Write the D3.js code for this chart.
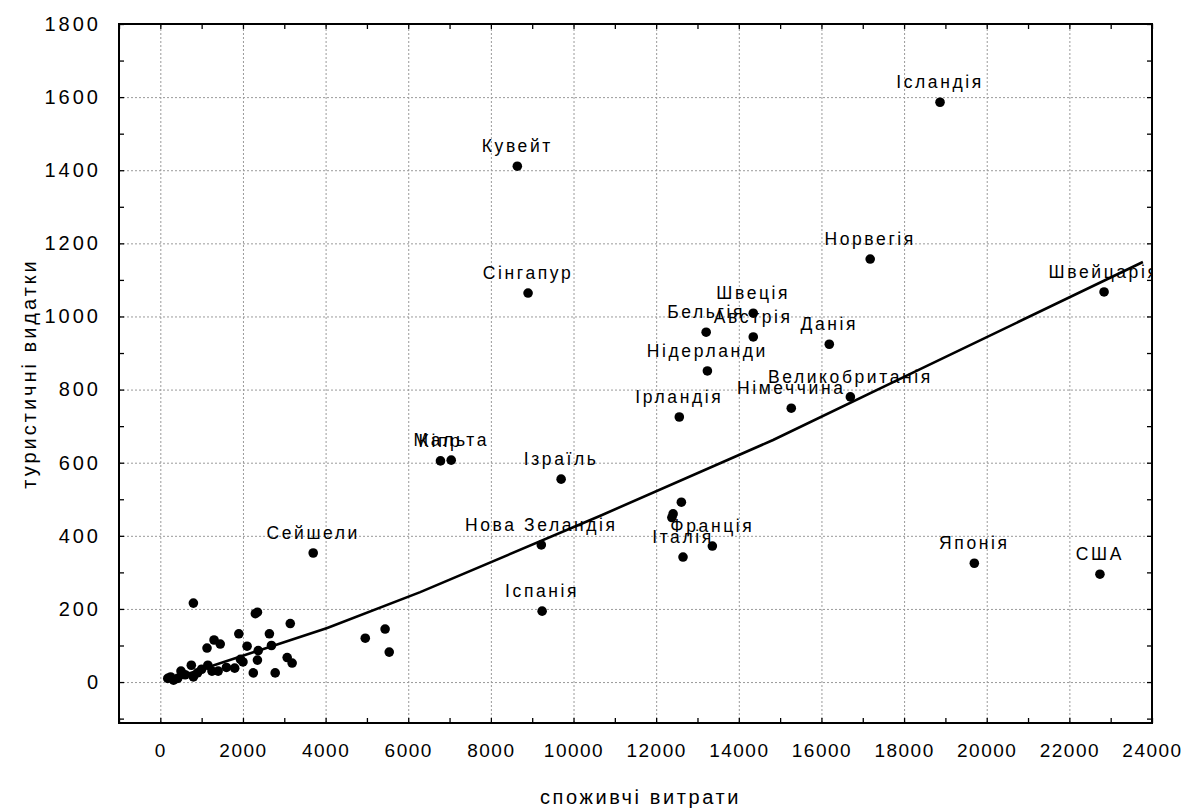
<!DOCTYPE html>
<html>
<head>
<meta charset="utf-8">
<script src="https://cdn.jsdelivr.net/npm/d3@7"></script>
<style>
  body { margin: 0; background: #fff; }
  svg { display: block; font-family: "Liberation Sans", Arial, sans-serif; }
</style>
</head>
<body>
<script>
window.document.addEventListener('DOMContentLoaded', init, false);

// labelled countries
var countries = ['Ісландія', 'Кувейт', 'Норвегія', 'Сінгапур', 'Швейцарія', 'Швеція', 'Австрія',
                 'Бельгія', 'Данія', 'Нідерланди', 'Ірландія', 'Німеччина', 'Великобританія',
                 'Кіпр', 'Мальта', 'Ізраїль', 'Нова Зеландія', 'Франція', 'Італія', 'Іспанія',
                 'Сейшели', 'Японія', 'США'];
var consumption = [18870, 8640, 17180, 8900, 22840, 14350, 14350,
                   13210, 16190, 13240, 12560, 15270, 16700,
                   6780, 7040, 9700, 9220, 13360, 12650, 9240,
                   3700, 19700, 22740];
var tourism = [1586, 1411, 1157, 1064, 1067, 1009, 944,
               957, 924, 851, 725, 749, 780,
               605, 607, 555, 375, 372, 342, 194,
               353, 325, 295];

// unlabelled countries
var otherConsumption = [12410, 12380, 12610, 800, 2300, 2350, 3145, 1900, 2640, 1300, 1450, 1130,
                        2100, 2690, 2370, 1940, 3070, 3190, 2250, 2780, 2350, 1800, 1400, 1150,
                        750, 500, 250, 320, 180, 800, 1000, 600, 4960, 5440, 5540, 420, 900,
                        1250, 1600, 2000];
var otherTourism = [460, 450, 492, 216, 187, 191, 160, 132, 132, 115, 104, 93,
                    98, 100, 86, 62, 67, 52, 25, 25, 60, 38, 30, 46,
                    46, 30, 14, 5, 10, 14, 35, 20, 120, 145, 82, 10, 25,
                    30, 40, 55];

// fitted line
var fitX = [200, 4040, 6290, 10650, 14830, 18390, 23780];
var fitY = [5, 148, 246, 455, 662, 856, 1149];

var xTickValues = [0, 2000, 4000, 6000, 8000, 10000, 12000, 14000, 16000, 18000, 20000, 22000, 24000];
var yTickValues = [0, 200, 400, 600, 800, 1000, 1200, 1400, 1600, 1800];

var width = 1188;
var height = 812;
var plotLeft = 119, plotRight = 1152, plotTop = 24, plotBottom = 723;

var x = d3.scaleLinear().domain([-1000, 24000]).range([plotLeft, plotRight]);
var y = d3.scaleLinear().domain([-112, 1800]).range([plotBottom, plotTop]);

var svg;

function init() {
    svg = d3.select('body').append('svg')
        .attr('width', width)
        .attr('height', height);

    svg.append('clipPath').attr('id', 'plot')
        .append('rect')
        .attr('x', plotLeft).attr('y', plotTop)
        .attr('width', plotRight - plotLeft).attr('height', plotBottom - plotTop);

    drawGrid();
    drawTicks();
    drawLabels();
    drawData();
    drawFrame();
}

function drawGrid() {
    var gx = svg.append('g')
        .attr('transform', `translate(0, ${plotBottom})`)
        .call(d3.axisBottom(x).tickValues(xTickValues.slice(0, -1)).tickSize(-(plotBottom - plotTop)).tickFormat(''));
    var gy = svg.append('g')
        .attr('transform', `translate(${plotLeft}, 0)`)
        .call(d3.axisLeft(y).tickValues(yTickValues.slice(0, -1)).tickSize(-(plotRight - plotLeft)).tickFormat(''));
    [gx, gy].forEach(function(g) {
        g.select('.domain').remove();
        g.selectAll('line')
            .attr('stroke', '#9a9a9a')
            .attr('stroke-dasharray', '2,2');
    });
}

function drawTicks() {
    var xMinor = d3.range(-1000, 24001, 1000);
    var yMinor = d3.range(-100, 1801, 100);
    var parts = [
        [d3.axisBottom(x).tickValues(xMinor).tickSize(-5), `translate(0, ${plotBottom})`],
        [d3.axisTop(x).tickValues(xMinor).tickSize(-5), `translate(0, ${plotTop})`],
        [d3.axisLeft(y).tickValues(yMinor).tickSize(-5), `translate(${plotLeft}, 0)`],
        [d3.axisRight(y).tickValues(yMinor).tickSize(-5), `translate(${plotRight}, 0)`]
    ];
    parts.forEach(function(p) {
        var g = svg.append('g')
            .attr('transform', p[1])
            .call(p[0].tickFormat(''));
        g.select('.domain').remove();
        g.selectAll('line').attr('stroke', '#000').attr('stroke-width', 1.3);
    });
}

function drawLabels() {
    var gx = svg.append('g')
        .attr('transform', `translate(0, ${plotBottom})`)
        .call(d3.axisBottom(x).tickValues(xTickValues).tickSize(0).tickPadding(21).tickFormat(d3.format('d')));
    gx.select('.domain').remove();
    gx.selectAll('text')
        .attr('font-size', 19)
        .attr('fill', '#000')
        .attr('font-family', '"Liberation Sans Narrow", "Liberation Sans", sans-serif')
        .attr('letter-spacing', 1.5);

    var gy = svg.append('g')
        .attr('transform', `translate(${plotLeft}, 0)`)
        .call(d3.axisLeft(y).tickValues(yTickValues).tickSize(0).tickPadding(18).tickFormat(d3.format('d')));
    gy.select('.domain').remove();
    gy.selectAll('text')
        .attr('font-size', 20)
        .attr('fill', '#000')
        .attr('letter-spacing', 3);

    svg.append('text')
        .attr('x', (plotLeft + plotRight) / 2 + 5)
        .attr('y', 797)
        .attr('text-anchor', 'middle')
        .attr('dominant-baseline', 'central')
        .attr('font-size', 20)
        .attr('letter-spacing', 2.6)
        .attr('fill', '#000')
        .text('споживчі витрати');

    svg.append('text')
        .attr('transform', `translate(29, ${(plotTop + plotBottom) / 2}) rotate(-90)`)
        .attr('text-anchor', 'middle')
        .attr('dominant-baseline', 'central')
        .attr('font-size', 20)
        .attr('letter-spacing', 3)
        .attr('fill', '#000')
        .text('туристичні видатки');
}

function drawData() {
    var plot = svg.append('g').attr('clip-path', 'url(#plot)');

    var line = d3.line()
        .x(function(d, i) { return x(fitX[i]); })
        .y(function(d, i) { return y(fitY[i]); });

    plot.append('path')
        .datum(fitX)
        .attr('d', line)
        .attr('fill', 'none')
        .attr('stroke', '#000')
        .attr('stroke-width', 2.6);

    plot.selectAll('circle.other')
        .data(otherConsumption)
        .enter()
            .append('circle')
            .attr('class', 'other')
            .attr('cx', function(d) { return x(d); })
            .attr('cy', function(d, i) { return y(otherTourism[i]); })
            .attr('r', 4.8)
            .attr('fill', '#000');

    plot.selectAll('circle.named')
        .data(consumption)
        .enter()
            .append('circle')
            .attr('class', 'named')
            .attr('cx', function(d) { return x(d); })
            .attr('cy', function(d, i) { return y(tourism[i]); })
            .attr('r', 4.8)
            .attr('fill', '#000');

    plot.selectAll('text.name')
        .data(countries)
        .enter()
            .append('text')
            .attr('class', 'name')
            .attr('x', function(d, i) { return x(consumption[i]); })
            .attr('y', function(d, i) { return y(tourism[i]) - 14; })
            .attr('text-anchor', 'middle')
            .attr('font-size', 17.5)
            .attr('letter-spacing', 2.6)
            .attr('fill', '#000')
            .text(function(d) { return d; });
}

function drawFrame() {
    svg.append('rect')
        .attr('x', plotLeft)
        .attr('y', plotTop)
        .attr('width', plotRight - plotLeft)
        .attr('height', plotBottom - plotTop)
        .attr('fill', 'none')
        .attr('stroke', '#000')
        .attr('stroke-width', 2);
}
</script>
</body>
</html>
